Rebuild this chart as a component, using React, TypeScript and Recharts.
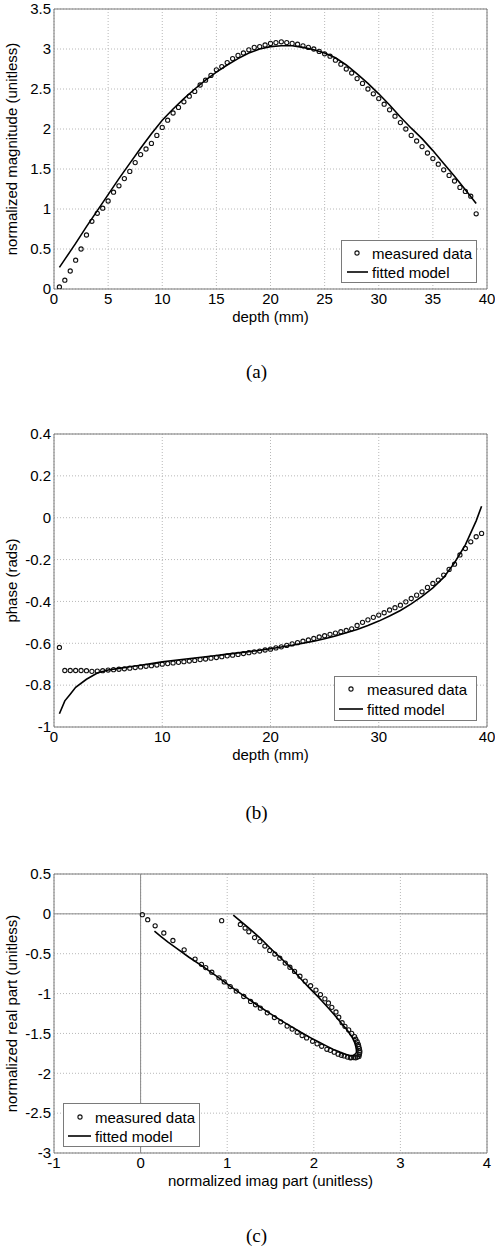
import React from 'react';
import {
  ScatterChart,
  Scatter,
  XAxis,
  YAxis,
  CartesianGrid,
  ReferenceArea,
  ReferenceLine,
  Legend,
  Label,
} from 'recharts';

// ---------- (a) magnitude ----------
const depthMeasured = [
  0.5, 1, 1.5, 2, 2.5, 3, 3.5, 4, 4.5, 5, 5.5, 6, 6.5, 7, 7.5, 8, 8.5, 9, 9.5, 10,
  10.5, 11, 11.5, 12, 12.5, 13, 13.5, 14, 14.5, 15, 15.5, 16, 16.5, 17, 17.5, 18, 18.5, 19, 19.5, 20,
  20.5, 21, 21.5, 22, 22.5, 23, 23.5, 24, 24.5, 25, 25.5, 26, 26.5, 27, 27.5, 28, 28.5, 29, 29.5, 30,
  30.5, 31, 31.5, 32, 32.5, 33, 33.5, 34, 34.5, 35, 35.5, 36, 36.5, 37, 37.5, 38, 38.5, 39,
];
const magnitudeMeasured = [
  0.025, 0.11, 0.225, 0.36, 0.5, 0.675, 0.846, 0.946, 1.01, 1.1, 1.21, 1.29, 1.38, 1.47, 1.58, 1.68, 1.75, 1.82, 1.92, 2.02,
  2.11, 2.2, 2.27, 2.34, 2.41, 2.47, 2.55, 2.61, 2.67, 2.74, 2.78, 2.83, 2.88, 2.92, 2.95, 2.99, 3.02, 3.03, 3.05, 3.07,
  3.08, 3.09, 3.08, 3.07, 3.06, 3.04, 3.02, 3.0, 2.97, 2.94, 2.91, 2.86, 2.81, 2.75, 2.7, 2.63, 2.57, 2.5, 2.44, 2.38,
  2.31, 2.24, 2.16, 2.08, 2.0, 1.92, 1.85, 1.78, 1.7, 1.63, 1.56, 1.49, 1.42, 1.35, 1.27, 1.22, 1.16, 0.94,
];
const depthFit = [
  0.5, 1, 1.5, 2, 3, 4, 5, 6, 7, 8, 9, 10, 11, 12, 13, 14, 15, 16, 17, 18, 19, 20,
  21, 22, 23, 24, 25, 26, 27, 28, 29, 30, 31, 32, 33, 34, 35, 36, 37, 38, 39,
];
const magnitudeFit = [
  0.27, 0.37, 0.47, 0.57, 0.78, 0.98, 1.18, 1.38, 1.57, 1.76, 1.94, 2.11, 2.25, 2.38, 2.5, 2.61, 2.71, 2.8, 2.88, 2.95, 3.0, 3.03,
  3.04, 3.04, 3.02, 2.99, 2.95, 2.89, 2.8, 2.69, 2.57, 2.44, 2.3, 2.15, 2.01, 1.88, 1.73, 1.57, 1.41, 1.24, 1.07,
];

// ---------- (b) phase ----------
const depthPhaseMeasured = [
  0.5, 1, 1.5, 2, 2.5, 3, 3.5, 4, 4.5, 5, 5.5, 6, 6.5, 7, 7.5, 8, 8.5, 9, 9.5, 10,
  10.5, 11, 11.5, 12, 12.5, 13, 13.5, 14, 14.5, 15, 15.5, 16, 16.5, 17, 17.5, 18, 18.5, 19, 19.5, 20,
  20.5, 21, 21.5, 22, 22.5, 23, 23.5, 24, 24.5, 25, 25.5, 26, 26.5, 27, 27.5, 28, 28.5, 29, 29.5, 30,
  30.5, 31, 31.5, 32, 32.5, 33, 33.5, 34, 34.5, 35, 35.5, 36, 36.5, 37, 37.5, 38, 38.5, 39, 39.5,
];
const phaseMeasured = [
  -0.62, -0.73, -0.73, -0.73, -0.73, -0.731, -0.734, -0.733, -0.731, -0.728, -0.726, -0.724, -0.722, -0.719, -0.716, -0.713, -0.71, -0.707, -0.704, -0.7,
  -0.697, -0.694, -0.691, -0.688, -0.685, -0.682, -0.678, -0.675, -0.671, -0.668, -0.664, -0.66, -0.657, -0.653, -0.649, -0.645, -0.641, -0.637, -0.632, -0.628,
  -0.622, -0.617, -0.61, -0.603, -0.597, -0.59, -0.584, -0.577, -0.57, -0.564, -0.557, -0.551, -0.545, -0.539, -0.531, -0.515, -0.5, -0.488, -0.476, -0.465,
  -0.454, -0.441, -0.43, -0.418, -0.402, -0.386, -0.37, -0.354, -0.333, -0.314, -0.298, -0.274, -0.247, -0.222, -0.178, -0.147, -0.115, -0.091, -0.075,
];
const depthPhaseFit = [
  0.5, 1, 1.5, 2, 3, 4, 5, 6, 7, 8, 9, 10, 11, 12, 13, 14, 15, 16, 17, 18, 19, 20,
  21, 22, 23, 24, 25, 26, 27, 28, 29, 30, 31, 32, 33, 34, 35, 36, 37, 38, 39, 39.5,
];
const phaseFit = [
  -0.937, -0.875, -0.843, -0.81, -0.772, -0.742, -0.728, -0.72, -0.712, -0.705, -0.697, -0.689, -0.682, -0.676, -0.67, -0.664, -0.658, -0.652, -0.646, -0.64, -0.633, -0.626,
  -0.618, -0.609, -0.6, -0.59, -0.578, -0.565, -0.55, -0.534, -0.515, -0.494, -0.47, -0.443, -0.412, -0.376, -0.335, -0.285, -0.215, -0.13, -0.015, 0.055,
];

// ---------- (c) complex plane ----------
const imagMeasured = [
  0.02, 0.082, 0.168, 0.268, 0.373, 0.503, 0.629, 0.703, 0.752, 0.822, 0.905, 0.966, 1.035, 1.105, 1.191, 1.27, 1.327, 1.383, 1.463, 1.545,
  1.618, 1.692, 1.75, 1.809, 1.865, 1.917, 1.986, 2.038, 2.091, 2.151, 2.191, 2.236, 2.281, 2.318, 2.351, 2.389, 2.422, 2.436, 2.461, 2.484,
  2.504, 2.521, 2.526, 2.53, 2.531, 2.526, 2.519, 2.514, 2.501, 2.484, 2.471, 2.437, 2.403, 2.36, 2.327, 2.288, 2.256, 2.208, 2.169, 2.128,
  2.077, 2.025, 1.963, 1.901, 1.84, 1.778, 1.724, 1.67, 1.607, 1.55, 1.491, 1.435, 1.377, 1.316, 1.25, 1.207, 1.152, 0.936,
];
const realMeasured = [
  -0.01, -0.073, -0.15, -0.24, -0.334, -0.451, -0.567, -0.633, -0.674, -0.732, -0.803, -0.854, -0.912, -0.969, -1.037, -1.099, -1.141, -1.183, -1.242, -1.301,
  -1.355, -1.408, -1.446, -1.486, -1.526, -1.556, -1.599, -1.631, -1.661, -1.699, -1.712, -1.735, -1.76, -1.775, -1.782, -1.797, -1.806, -1.803, -1.803, -1.805,
  -1.796, -1.789, -1.765, -1.741, -1.72, -1.69, -1.664, -1.638, -1.604, -1.573, -1.539, -1.499, -1.456, -1.411, -1.366, -1.297, -1.231, -1.173, -1.118, -1.066,
  -1.012, -0.956, -0.901, -0.844, -0.782, -0.722, -0.67, -0.618, -0.556, -0.504, -0.459, -0.404, -0.348, -0.297, -0.225, -0.178, -0.133, -0.085,
];
const imagFit = [
  0.16, 0.236, 0.313, 0.393, 0.559, 0.722, 0.881, 1.038, 1.189, 1.341, 1.488, 1.629, 1.746, 1.856, 1.96, 2.057, 2.144, 2.226, 2.301, 2.366, 2.418,
  2.455, 2.477, 2.493, 2.492, 2.485, 2.471, 2.442, 2.389, 2.316, 2.237, 2.147, 2.051, 1.942, 1.841, 1.748, 1.634, 1.507, 1.378, 1.23, 1.07,
];
const realFit = [
  -0.218, -0.285, -0.351, -0.413, -0.544, -0.662, -0.785, -0.91, -1.026, -1.14, -1.245, -1.342, -1.418, -1.489, -1.552, -1.608, -1.656, -1.7, -1.734, -1.761, -1.776,
  -1.776, -1.761, -1.739, -1.706, -1.664, -1.612, -1.547, -1.464, -1.37, -1.266, -1.157, -1.042, -0.922, -0.804, -0.69, -0.569, -0.441, -0.3, -0.161, -0.016,
];

// ---------- axes / labels ----------
const depthTicksA = [0, 5, 10, 15, 20, 25, 30, 35, 40];
const magnitudeTicks = [0, 0.5, 1, 1.5, 2, 2.5, 3, 3.5];
const depthTicksB = [0, 10, 20, 30, 40];
const phaseTicks = [-1, -0.8, -0.6, -0.4, -0.2, 0, 0.2, 0.4];
const imagTicks = [-1, 0, 1, 2, 3, 4];
const realTicks = [-3, -2.5, -2, -1.5, -1, -0.5, 0, 0.5];
const legendNames = ['measured data', 'fitted model'];
const captions = ['(a)', '(b)', '(c)'];

const zip = (xs: number[], ys: number[]) => xs.map((x, i) => ({ x, y: ys[i] }));

const FONT = '"Liberation Sans", Arial, Helvetica, sans-serif';
const SERIF = '"Liberation Serif", "Times New Roman", serif';
const BOX = '#7a7a7a';
const GRID = '#b8b8b8';

const Marker = (props: any) => {
  const { cx, cy } = props;
  if (cx == null || cy == null) return <g />;
  return <circle cx={cx} cy={cy} r={2.1} fill="none" stroke="#111" strokeWidth={1.1} />;
};
const NoShape = () => <g />;

type LegendSpec = {
  left: number;
  top: number;
  width: number;
  height: number;
  markerX: number;
  textX: number;
  row1: number;
  row2: number;
  lineX1: number;
  lineX2: number;
};

const LegendBox = ({ spec }: { spec: LegendSpec }) => (
  <svg width={spec.width} height={spec.height} style={{ display: 'block' }}>
    <rect x={0.5} y={0.5} width={spec.width - 1} height={spec.height - 1} fill="#fff" stroke={BOX} strokeWidth={1} />
    <circle cx={spec.markerX} cy={spec.row1} r={2.1} fill="none" stroke="#111" strokeWidth={1.1} />
    <text x={spec.textX} y={spec.row1} dominantBaseline="central" fontFamily={FONT} fontSize={15} fill="#000">
      {legendNames[0]}
    </text>
    <line x1={spec.lineX1} x2={spec.lineX2} y1={spec.row2} y2={spec.row2} stroke="#000" strokeWidth={1.6} />
    <text x={spec.textX} y={spec.row2} dominantBaseline="central" fontFamily={FONT} fontSize={15} fill="#000">
      {legendNames[1]}
    </text>
  </svg>
);

type PanelProps = {
  top: number;
  plotHeight: number;
  measured: { x: number; y: number }[];
  fit: { x: number; y: number }[];
  xDomain: [number, number];
  xTicks: number[];
  yDomain: [number, number];
  yTicks: number[];
  xLabel: string;
  yLabel: string;
  legend: LegendSpec;
  zeroLines?: boolean;
};

const Panel = (p: PanelProps) => {
  const marginTop = 9;
  const xAxisH = 40;
  const height = marginTop + p.plotHeight + xAxisH;
  const tickStyle = { fontSize: 15, fontFamily: FONT, fill: '#000' };
  return (
    <div style={{ position: 'absolute', left: 0, top: p.top, width: 495, height }}>
      <ScatterChart width={495} height={height} margin={{ top: marginTop, right: 8, bottom: 0, left: 0 }}>
        <CartesianGrid stroke={GRID} strokeDasharray="1 2" />
        <XAxis
          type="number"
          dataKey="x"
          domain={p.xDomain}
          ticks={p.xTicks}
          interval={0}
          allowDataOverflow
          height={xAxisH}
          tickLine={false}
          tickSize={0}
          tickMargin={4}
          axisLine={false}
          tick={tickStyle}
        >
          <Label value={p.xLabel} position="insideBottom" offset={7} style={{ fontSize: 15, fontFamily: FONT, fill: '#000' }} />
        </XAxis>
        <YAxis
          type="number"
          dataKey="y"
          domain={p.yDomain}
          ticks={p.yTicks}
          interval={0}
          allowDataOverflow
          width={54}
          tickLine={false}
          tickSize={0}
          tickMargin={3}
          axisLine={false}
          tick={tickStyle}
        >
          <Label
            value={p.yLabel}
            angle={-90}
            position="insideLeft"
            offset={12}
            style={{ fontSize: 15, fontFamily: FONT, fill: '#000', textAnchor: 'middle' }}
          />
        </YAxis>
        {p.zeroLines && <ReferenceLine x={0} stroke="#8a8a8a" strokeWidth={1} />}
        {p.zeroLines && <ReferenceLine y={0} stroke="#8a8a8a" strokeWidth={1} />}
        <ReferenceArea
          x1={p.xDomain[0]}
          x2={p.xDomain[1]}
          y1={p.yDomain[0]}
          y2={p.yDomain[1]}
          fill="none"
          fillOpacity={0}
          stroke={BOX}
          strokeWidth={1}
          ifOverflow="visible"
        />
        <Scatter
          name={legendNames[0]}
          data={p.measured}
          shape={Marker}
          isAnimationActive={false}
        />
        <Scatter
          name={legendNames[1]}
          data={p.fit}
          shape={NoShape}
          line={{ stroke: '#000', strokeWidth: 1.6 }}
          isAnimationActive={false}
        />
        <Legend
          layout="vertical"
          align="center"
          verticalAlign="middle"
          content={() => <LegendBox spec={p.legend} />}
          wrapperStyle={{
            left: p.legend.left,
            top: p.legend.top,
            width: p.legend.width,
            height: p.legend.height,
            right: 'auto',
            bottom: 'auto',
          }}
        />
      </ScatterChart>
    </div>
  );
};

export default function App() {
  return (
    <div style={{ position: 'absolute', left: 0, top: 0, width: 495, height: 1247, background: '#fff', overflow: 'hidden' }}>
      <Panel
        top={0}
        plotHeight={280}
        measured={zip(depthMeasured, magnitudeMeasured)}
        fit={zip(depthFit, magnitudeFit)}
        xDomain={[0, 40]}
        xTicks={depthTicksA}
        yDomain={[0, 3.5]}
        yTicks={magnitudeTicks}
        xLabel="depth (mm)"
        yLabel="normalized magnitude (unitless)"
        legend={{ left: 341, top: 240, width: 136, height: 43, markerX: 16, textX: 31, row1: 13, row2: 32, lineX1: 6, lineX2: 27 }}
      />
      <Panel
        top={425}
        plotHeight={293}
        measured={zip(depthPhaseMeasured, phaseMeasured)}
        fit={zip(depthPhaseFit, phaseFit)}
        xDomain={[0, 40]}
        xTicks={depthTicksB}
        yDomain={[-1, 0.4]}
        yTicks={phaseTicks}
        xLabel="depth (mm)"
        yLabel="phase (rads)"
        legend={{ left: 334, top: 251, width: 143, height: 45, markerX: 17, textX: 33, row1: 13, row2: 33, lineX1: 5, lineX2: 29 }}
      />
      <Panel
        top={865}
        plotHeight={279}
        measured={zip(imagMeasured, realMeasured)}
        fit={zip(imagFit, realFit)}
        xDomain={[-1, 4]}
        xTicks={imagTicks}
        yDomain={[-3, 0.5]}
        yTicks={realTicks}
        xLabel="normalized imag part (unitless)"
        yLabel="normalized real part (unitless)"
        legend={{ left: 63, top: 238, width: 137, height: 44, markerX: 17, textX: 32, row1: 14, row2: 33, lineX1: 5, lineX2: 28 }}
        zeroLines
      />
      <svg width={495} height={1247} style={{ position: 'absolute', left: 0, top: 0, pointerEvents: 'none' }}>
        <text x={256.5} y={371} textAnchor="middle" dominantBaseline="central" fontFamily={SERIF} fontSize={19} fill="#000">
          {captions[0]}
        </text>
        <text x={256.5} y={812} textAnchor="middle" dominantBaseline="central" fontFamily={SERIF} fontSize={19} fill="#000">
          {captions[1]}
        </text>
        <text x={256.5} y={1235} textAnchor="middle" dominantBaseline="central" fontFamily={SERIF} fontSize={19} fill="#000">
          {captions[2]}
        </text>
      </svg>
    </div>
  );
}
